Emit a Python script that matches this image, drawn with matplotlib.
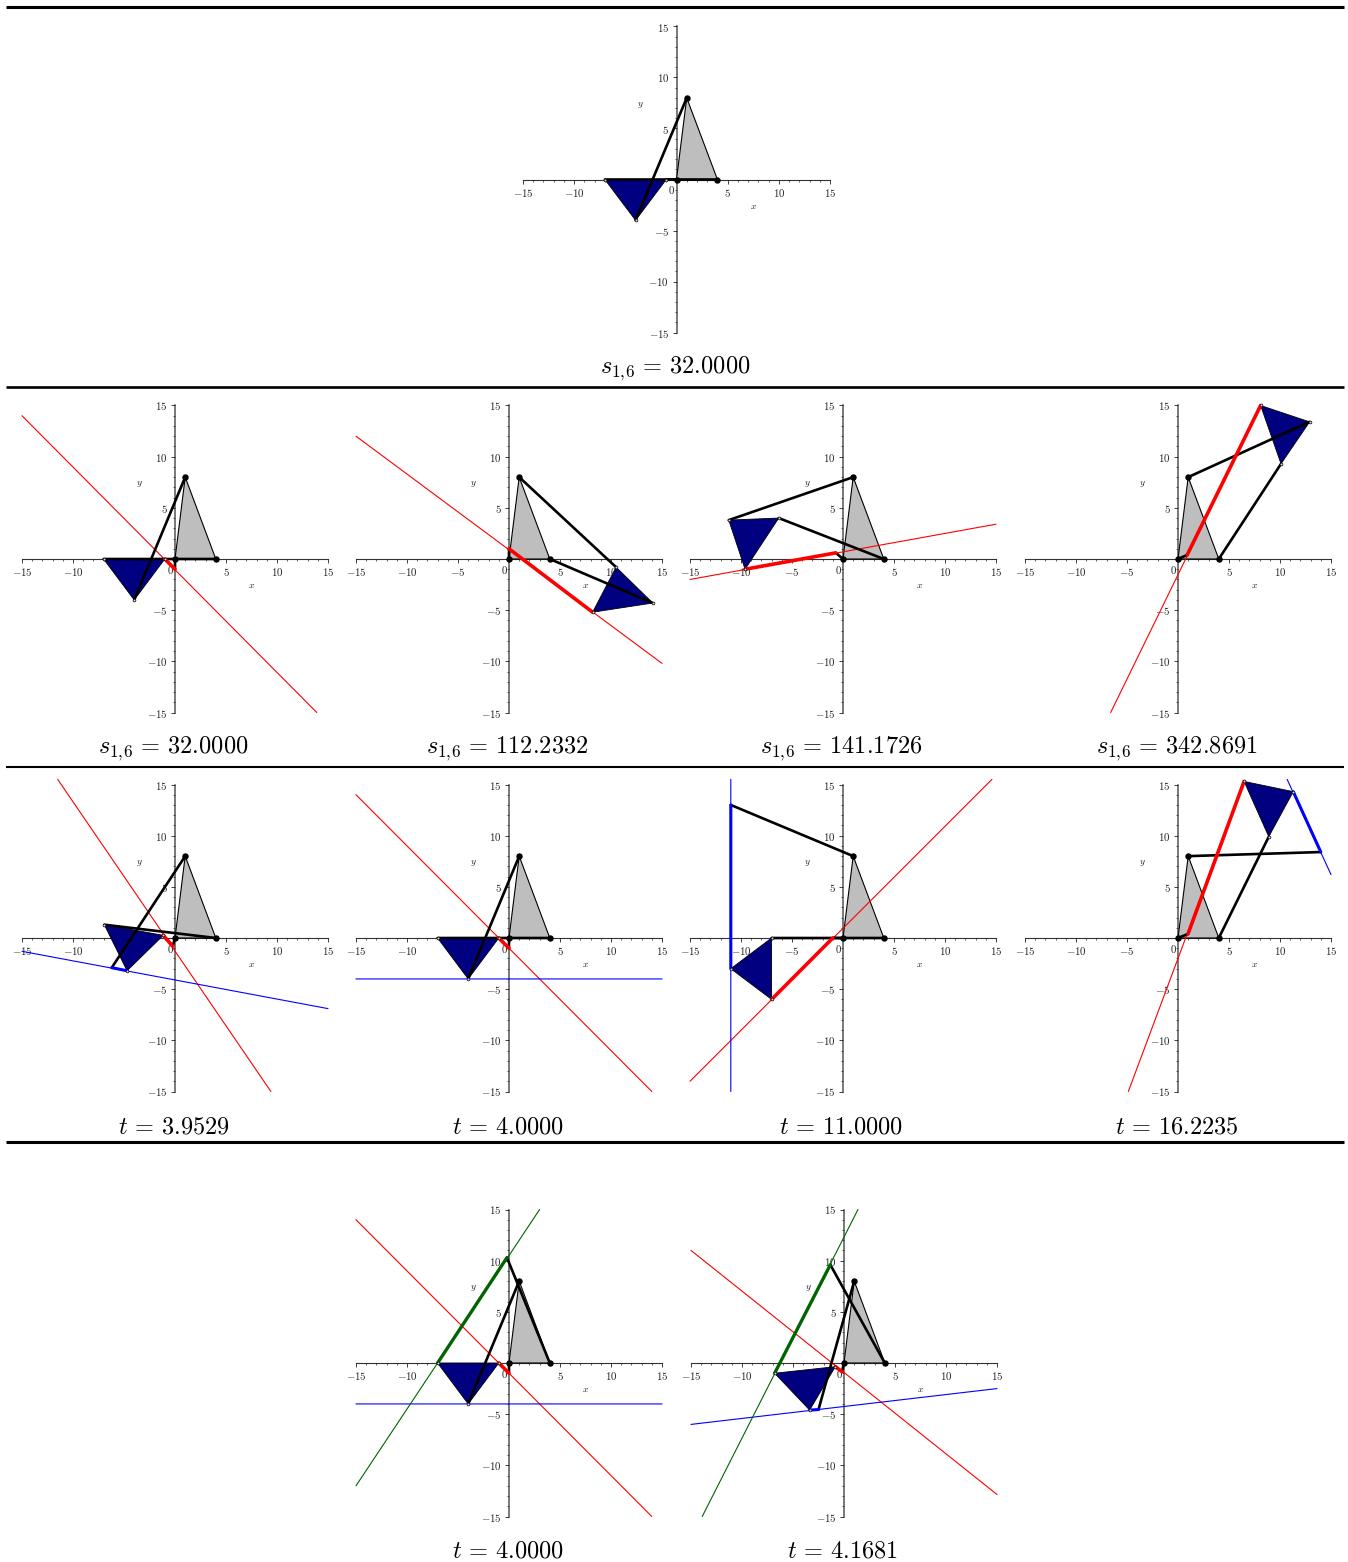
import matplotlib
matplotlib.use("Agg")
import matplotlib.pyplot as plt
from matplotlib.lines import Line2D

plt.rcParams['font.family'] = ['Liberation Serif', 'DejaVu Serif']
plt.rcParams['mathtext.fontset'] = 'cm'

W = 1348
H = 1562

gray_tri = [(0, 0), (1, 8), (4, 0)]

captions = [
    r'$s_{1,\!6}\,=\,32.0000$',
    r'$s_{1,\!6}\,=\,32.0000$', r'$s_{1,\!6}\,=\,112.2332$', r'$s_{1,\!6}\,=\,141.1726$', r'$s_{1,\!6}\,=\,342.8691$',
    r'$t\,=\,3.9529$', r'$t\,=\,4.0000$', r'$t\,=\,11.0000$', r'$t\,=\,16.2235$',
    r'$t\,=\,4.0000$', r'$t\,=\,4.1681$',
]

# pixel box of each panel: left, right, top, bottom
boxes = [
    (523, 830, 27, 333),
    (22, 328, 406, 713), (356, 662, 406, 713), (690, 996, 406, 713), (1025, 1331, 406, 713),
    (22, 328, 785, 1092), (356, 662, 785, 1092), (690, 996, 785, 1092), (1025, 1331, 785, 1092),
    (356, 662, 1210, 1517), (691, 997, 1210, 1517),
]

blue_tris = [
    [(-7, 0), (-1, 0), (-4, -4)],
    [(-7, 0), (-1, 0), (-4, -4)],
    [(8.2, -5.2), (10.5, -0.8), (14.1, -4.3)],
    [(-11.2, 3.8), (-6.3, 4), (-9.6, -1)],
    [(8.1, 15), (12.9, 13.4), (10.1, 9.3)],
    [(-6.93, 1.3), (-1.15, 0.26), (-4.7, -3.2)],
    [(-7, 0), (-1, 0), (-4, -4)],
    [(-11, -3), (-7, 0), (-7, -6)],
    [(6.48, 15.3), (11.3, 14.3), (8.9, 9.9)],
    [(-7, 0), (-1, 0), (-4, -4)],
    [(-6.8, -1), (-0.85, -0.36), (-3.37, -4.6)],
]

# black links, thick
black_links = [
    [[(1, 8), (-4, -4)], [(4, 0), (-7, 0)], [(0, 0), (-1, 0)]],
    [[(1, 8), (-4, -4)], [(4, 0), (-7, 0)], [(0, 0), (0, -1)]],
    [[(1, 8), (10.5, -0.8)], [(4, 0), (14.1, -4.3)], [(0, 0), (0, 1)]],
    [[(1, 8), (-11.2, 3.8)], [(4, 0), (-6.3, 4)], [(0, 0), (-0.7, 0.6)]],
    [[(1, 8), (12.9, 13.4)], [(4, 0), (10.1, 9.3)], [(0, 0), (0.9, 0.4)]],
    [[(1, 8), (-6.2, -2.9)], [(4, 0), (-6.93, 1.3)], [(0, 0), (-0.23, -0.8)]],
    [[(1, 8), (-4, -4)], [(4, 0), (-7, 0)], [(0, 0), (0, -1)]],
    [[(1, 8), (-11, 13)], [(4, 0), (-7, 0)], [(0, 0), (-1, 0)]],
    [[(1, 8), (14, 8.4)], [(4, 0), (8.9, 9.9)], [(0, 0), (0.98, 0.4)]],
    [[(1, 8), (-4, -4)], [(4, 0), (-0.2, 10.3)], [(0, 0), (0, -1)]],
    [[(1, 8), (-2.5, -4.55)], [(4, 0), (-1.34, 9.6)], [(0, 0), (-0.2, -0.85)]],
]

red_lines = [
    None,
    [(-15, 14), (13.9, -15)],
    [(-15, 12), (15, -10.2)],
    [(-15, -2), (15, 3.4)],
    [(-6.6, -15), (8.1, 15)],
    [(-11.5, 15.5), (9.4, -15)],
    [(-15, 14), (14, -15)],
    [(-15, -14), (14.6, 15.5)],
    [(-4.87, -15), (6.48, 15.3)],
    [(-15, 14), (14, -15)],
    [(-15, 11), (15, -12.85)],
]
red_thick = [
    None,
    [(-1, 0), (0, -1)],
    [(0, 1), (8.2, -5.2)],
    [(-9.6, -1), (-0.7, 0.6)],
    [(0.9, 0.4), (8.1, 15)],
    [(-1.15, 0.26), (-0.23, -0.8)],
    [(-1, 0), (0, -1)],
    [(-7, -6), (-1, 0)],
    [(0.98, 0.4), (6.48, 15.3)],
    [(-1, 0), (0, -1)],
    [(-0.85, -0.36), (-0.2, -0.85)],
]

blue_lines = [
    None, None, None, None, None,
    [(-15, -1.3), (15, -6.9)],
    [(-15, -4), (15, -4)],
    [(-11, 15.5), (-11, -15)],
    [(10.7, 15.5), (15, 6.2)],
    [(-15, -4), (15, -4)],
    [(-15, -6), (15, -2.5)],
]
blue_thick = [
    None, None, None, None, None,
    [(-4.7, -3.2), (-6.2, -2.9)],
    None,
    [(-11, 13), (-11, -3)],
    [(11.3, 14.3), (14, 8.4)],
    None,
    [(-3.37, -4.6), (-2.5, -4.55)],
]

green_lines = [None] * 9 + [[(-15, -12), (3, 15)], [(-13.9, -15), (1.37, 15)]]
green_thick = [None] * 9 + [[(-7, 0), (-0.2, 10.3)], [(-6.8, -1), (-1.34, 9.6)]]

# horizontal rules: y pixel, width
rules = [(7, 2.2), (387, 1.9), (767, 1.5), (1142, 2.2)]


def seg(ax, pts, color, lw, z=3):
    line, = ax.plot([p[0] for p in pts], [p[1] for p in pts], color=color, lw=lw, zorder=z,
                    solid_capstyle='round', clip_on=False)
    line.set_snap(False)


fig = plt.figure(figsize=(W / 100, H / 100), dpi=100)

for i, (l, r, t, b) in enumerate(boxes):
    # half a pixel up, the source axes sit between pixel rows
    ax = fig.add_axes([l / W, 1 - (b - 0.5) / H, (r - l) / W, (b - t) / H])
    ax.set_xlim(-15, 15)
    ax.set_ylim(-15, 15)
    ax.patch.set_visible(False)
    for s in ['top', 'right']:
        ax.spines[s].set_visible(False)
    ax.spines['left'].set_position('zero')
    ax.spines['bottom'].set_position('zero')
    ax.spines['left'].set_linewidth(1.1)
    ax.spines['bottom'].set_linewidth(0.8)
    ax.spines['left'].set_color('#555555')
    ax.spines['bottom'].set_color('#333333')
    ax.spines['left'].set_zorder(1)
    ax.spines['bottom'].set_zorder(1)

    ticks = [-15, -10, -5, 5, 10, 15]
    labels = ['$%d$' % v for v in ticks]
    ax.set_xticks(ticks)
    ax.set_yticks(ticks)
    ax.set_xticklabels(labels)
    ax.set_yticklabels(labels, va='center_baseline')
    ax.set_xticks(range(-15, 16), minor=True)
    ax.set_yticks(range(-15, 16), minor=True)
    ax.tick_params(axis='both', which='major', length=3.2, width=0.6, labelsize=7.8, pad=2, color='#222222',
                   labelcolor='#222222')
    ax.tick_params(axis='both', which='minor', length=1.6, width=0.5, color='#222222')
    ax.tick_params(axis='x', which='both', direction='out', top=False)
    ax.tick_params(axis='y', which='both', direction='out', right=False)
    ax.text(-0.45, -1.05, '$0$', fontsize=7.8, ha='center', va='center', color='#222222')
    ax.text(7.5, -2.6, '$x$', fontsize=7, ha='center', va='center', color='#222222')
    ax.text(-3.5, 7.35, '$y$', fontsize=7, ha='center', va='center', color='#222222')

    ax.fill([p[0] for p in gray_tri], [p[1] for p in gray_tri], facecolor='#bebebe', edgecolor='black', lw=0.8, zorder=2)
    ax.fill([p[0] for p in blue_tris[i]], [p[1] for p in blue_tris[i]], facecolor='#000080', edgecolor='black', lw=0.6,
            zorder=2, clip_on=False)

    if red_lines[i]:
        seg(ax, red_lines[i], 'red', 0.8)
    if blue_lines[i]:
        seg(ax, blue_lines[i], 'blue', 0.8)
    if green_lines[i]:
        seg(ax, green_lines[i], '#006400', 0.8)
    for link in black_links[i]:
        seg(ax, link, 'black', 1.9, z=4)
    if red_thick[i]:
        seg(ax, red_thick[i], 'red', 2.6, z=5)
    if blue_thick[i]:
        seg(ax, blue_thick[i], 'blue', 2.2, z=5)
    if green_thick[i]:
        seg(ax, green_thick[i], '#006400', 2.4, z=5)

    # joints: fixed pins in black, moving ones light
    ax.plot([0, 1, 4], [0, 8, 0], 'o', color='black', ms=3.6, zorder=6, clip_on=False)
    ax.plot([p[0] for p in blue_tris[i]], [p[1] for p in blue_tris[i]], 'o', mfc='#dddddd', mec='black',
            mew=0.5, ms=2.0, zorder=6, clip_on=False)

    fig.text(((l + r) / 2 - 1.5) / W, 1 - (b + 35.5) / H, captions[i], fontsize=17.5, ha='center', va='center',
             color='black')

for y, lw in rules:
    fig.add_artist(Line2D([6 / W, 1344 / W], [1 - y / H, 1 - y / H], color='black', lw=lw,
                          solid_capstyle='butt', transform=fig.transFigure))

fig.savefig('out.png', dpi=100, facecolor='white')
